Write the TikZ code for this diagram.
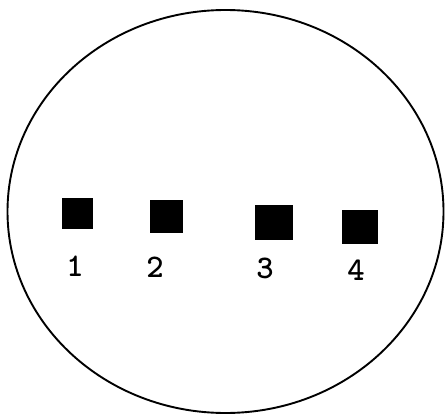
\documentclass[tikz,border=0pt]{standalone}
\usepackage{tikz}
\usetikzlibrary{shapes.geometric,positioning}

\begin{document}
\begin{tikzpicture}[x=1pt,y=-1pt,every node/.style={font=\ttfamily\bfseries\fontsize{33}{33}\selectfont},
  spot/.style={fill=black,inner sep=0pt}]
\useasboundingbox (0,0) rectangle (446,414);
\node[draw,ellipse,line width=1.9pt,minimum width=436pt,minimum height=403pt,inner sep=0pt](dish) at (225.5,211.5){};
\node[spot,minimum width=31pt,minimum height=31pt](s1) at (77.5,213.5){};
\node[spot,minimum width=33pt,minimum height=33pt](s2) at (166.5,216.5){};
\node[spot,minimum width=38pt,minimum height=35pt](s3) at (273.5,222.5){};
\node[spot,minimum width=36pt,minimum height=34pt](s4) at (360,227){};
\node(l1) at (75,266){1}; \node(l2) at (155,267){2}; \node(l3) at (265,268){3}; \node(l4) at (356,270){4};
\end{tikzpicture}
\end{document}
